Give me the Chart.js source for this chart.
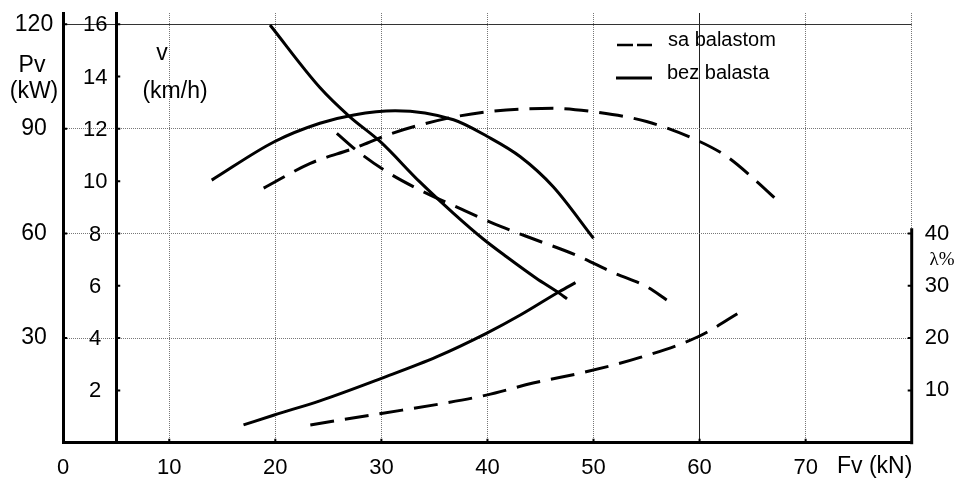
<!DOCTYPE html>
<html>
<head>
<meta charset="utf-8">
<script src="https://cdn.jsdelivr.net/npm/chart.js"></script>
<style>
  html, body { margin: 0; padding: 0; background: #fff; }
</style>
</head>
<body>
<canvas id="vucnaChart" width="960" height="478"></canvas>
<script>
// Fv (kN) on the x axis for every curve
// Pv (kW) - snaga
var pvBezX = [14.0, 19.9, 24.2, 27.4, 31.3, 36.8, 40.0, 43.1, 46.2, 50.0];
var pvBez  = [75.3, 86.3, 91.6, 94.0, 95.2, 92.6, 87.8, 82.0, 73.4, 58.6];
var pvSaX  = [18.9, 23.3, 27.4, 31.0, 36.2, 40.6, 46.2, 50.0, 55.0, 59.7, 62.6, 65.4, 67.6];
var pvSa   = [73.0, 80.1, 84.4, 88.7, 93.0, 95.1, 95.9, 94.9, 92.1, 86.8, 82.0, 74.9, 68.7];
// v (km/h) - brzina
var vBezX = [19.5, 24.2, 27.0, 29.9, 33.6, 36.8, 39.6, 41.8, 44.6, 46.8, 47.5];
var vBez  = [15.97, 13.58, 12.47, 11.51, 9.98, 8.77, 7.79, 7.11, 6.29, 5.71, 5.5];
var vSaX  = [25.8, 27.8, 30.5, 33.3, 37.7, 41.3, 44.6, 48.3, 52.0, 55.0, 56.9];
var vSa   = [11.83, 11.13, 10.36, 9.73, 8.90, 8.26, 7.75, 7.18, 6.48, 5.97, 5.46];
// lambda (%) - klizanje
var lamBezX = [17.0, 19.9, 24.2, 30.0, 35.2, 39.9, 43.1, 46.8, 48.3];
var lamBez  = [3.4, 5.3, 8.0, 12.3, 16.4, 20.9, 24.4, 28.9, 30.6];
var lamSaX  = [23.3, 30.0, 35.8, 39.9, 44.3, 49.4, 54.4, 59.9, 64.4];
var lamSa   = [3.4, 5.6, 7.5, 9.1, 11.4, 13.6, 16.3, 20.3, 25.7];

var pvTicks = [0, 30, 60, 90, 120];
var vTicks = [0, 2, 4, 6, 8, 10, 12, 14, 16];
var lamTicks = [10, 20, 30, 40];
var legendNames = ['sa balastom', 'bez balasta'];

var vMax = 16.43;

function pts(xs, ys) {
  return xs.map(function (x, i) { return { x: x, y: ys[i] }; });
}

var FONT = 'Liberation Sans, Arial, sans-serif';
var DASH = [24, 11];

function serija(label, xs, ys, axis, dashed) {
  return {
    label: label,
    data: pts(xs, ys),
    yAxisID: axis,
    borderColor: '#000',
    borderWidth: 3,
    borderDash: dashed ? DASH : [],
    pointRadius: 0,
    fill: false,
    cubicInterpolationMode: 'monotone'
  };
}

function fixTicks(list) {
  return function (s) { s.ticks = list.map(function (v) { return { value: v }; }); };
}

// fixed widths, and no extra room asked for above/below the plot
function fitSide(w) {
  return function (s) { s.width = w; s.paddingTop = 0; s.paddingBottom = 0; };
}

var decor = {
  id: 'decor',
  afterDraw: function (chart) {
    var c = chart.ctx, a = chart.chartArea, sc = chart.scales;
    var lam = sc.lam, v = sc.v, pv = sc.pv, x = sc.x;
    var vAxisX = x.getPixelForValue(5);
    c.save();
    // lambda axis line, only the lower part
    c.strokeStyle = '#000';
    c.lineWidth = 3;
    c.beginPath();
    c.moveTo(a.right, lam.getPixelForValue(0) + 1.5);
    c.lineTo(a.right, lam.getPixelForValue(41));
    c.stroke();

    // small inward tick marks
    c.lineWidth = 2;
    c.beginPath();
    pv.ticks.forEach(function (t) {
      if (!t.value) return;
      var y = pv.getPixelForValue(t.value);
      c.moveTo(a.left, y); c.lineTo(a.left + 4, y);
    });
    v.ticks.forEach(function (t) {
      if (!t.value) return;
      var y = v.getPixelForValue(t.value);
      c.moveTo(vAxisX, y); c.lineTo(vAxisX + 4, y);
    });
    lam.ticks.forEach(function (t) {
      var y = lam.getPixelForValue(t.value);
      c.moveTo(a.right, y); c.lineTo(a.right - 4, y);
    });
    x.ticks.forEach(function (t) {
      if (!t.value || t.value === 80) return;
      var px = x.getPixelForValue(t.value);
      c.moveTo(px, a.bottom); c.lineTo(px, a.bottom - 4);
    });
    c.stroke();

    // v axis labels, centred left of the axis line
    c.fillStyle = '#000';
    c.font = '22px ' + FONT;
    c.textAlign = 'center';
    c.textBaseline = 'middle';
    var vx = vAxisX - 21;
    v.ticks.forEach(function (t) {
      if (t.value === 0) return;
      c.fillText(String(t.value), vx, v.getPixelForValue(t.value) + 1);
    });

    // axis titles
    c.textBaseline = 'alphabetic';
    c.font = '23px ' + FONT;
    c.fillText('Pv', 32, 72);
    c.fillText('(kW)', 34, 98);
    c.fillText('v', 162, 60);
    c.fillText('(km/h)', 175, 98);
    c.textAlign = 'left';
    c.fillText('Fv (kN)', 837, 473);
    c.textAlign = 'center';
    c.font = '19px Liberation Serif, serif';
    c.fillText('\u03bb%', 942, 265);

    // legend
    c.lineWidth = 2.5;
    c.setLineDash([16, 4]);
    c.beginPath();
    c.moveTo(617, 45);
    c.lineTo(652, 45);
    c.stroke();
    c.setLineDash([]);
    c.lineWidth = 3;
    c.beginPath();
    c.moveTo(616, 78);
    c.lineTo(652, 78);
    c.stroke();
    c.font = '20px ' + FONT;
    c.textAlign = 'left';
    c.fillText(legendNames[0], 668, 46);
    c.fillText(legendNames[1], 667, 79);
    c.restore();
  }
};

var ctx = document.getElementById('vucnaChart').getContext('2d');
var vucnaChart = new Chart(ctx, {
  type: 'line',
  data: {
    datasets: [
      serija('Pv sa balastom', pvSaX, pvSa, 'pv', true),
      serija('Pv bez balasta', pvBezX, pvBez, 'pv', false),
      serija('v sa balastom', vSaX, vSa, 'v', true),
      serija('v bez balasta', vBezX, vBez, 'v', false),
      serija('\u03bb sa balastom', lamSaX, lamSa, 'lam', true),
      serija('\u03bb bez balasta', lamBezX, lamBez, 'lam', false)
    ]
  },
  options: {
    responsive: false,
    animation: false,
    layout: { padding: { top: 13, left: 0, right: 0, bottom: 0 } },
    plugins: { legend: { display: false }, tooltip: { enabled: false } },
    scales: {
      x: {
        type: 'linear',
        position: 'bottom',
        min: 0,
        max: 80,
        afterFit: function (s) { s.height = 35.3; },
        ticks: {
          stepSize: 10,
          maxRotation: 0,
          padding: 12,
          color: '#000',
          font: { family: FONT, size: 22 },
          callback: function (v) { return v === 80 ? '' : v; }
        },
        grid: {
          drawTicks: false,
          lineWidth: 1,
          color: function (c) { return c.tick && c.tick.value === 60 ? '#222' : '#777'; }
        },
        border: {
          color: '#000',
          width: 3,
          dash: function (c) { return c.tick && c.tick.value === 60 ? [] : [1, 1]; }
        }
      },
      pv: {
        type: 'linear',
        position: 'left',
        min: 0,
        max: vMax * 7.5,
        afterFit: fitSide(63.2),
        afterBuildTicks: fixTicks(pvTicks),
        ticks: {
          padding: 10,
          crossAlign: 'center',
          color: '#000',
          font: { family: FONT, size: 23 },
          callback: function (v) { return v === 0 ? '' : v; }
        },
        grid: {
          drawTicks: false,
          lineWidth: 1,
          color: function (c) { return c.tick && c.tick.value === 120 ? '#333' : '#777'; }
        },
        border: {
          color: '#000',
          width: 3,
          dash: function (c) { return c.tick && c.tick.value === 120 ? [] : [1, 1]; }
        }
      },
      v: {
        type: 'linear',
        position: { x: 5 },
        min: 0,
        max: vMax,
        afterBuildTicks: fixTicks(vTicks),
        afterFit: function (s) { s.paddingTop = 0; s.paddingBottom = 0; },
        ticks: { display: false },
        grid: { display: false, drawTicks: false },
        border: { color: '#000', width: 3 }
      },
      lam: {
        type: 'linear',
        position: 'right',
        min: 0,
        max: vMax * 5,
        afterFit: fitSide(48.3),
        afterBuildTicks: fixTicks(lamTicks),
        ticks: {
          padding: 13,
          color: '#000',
          font: { family: FONT, size: 22 }
        },
        grid: { display: false, drawTicks: false },
        border: { display: false }
      }
    }
  },
  plugins: [decor]
});
</script>
</body>
</html>
